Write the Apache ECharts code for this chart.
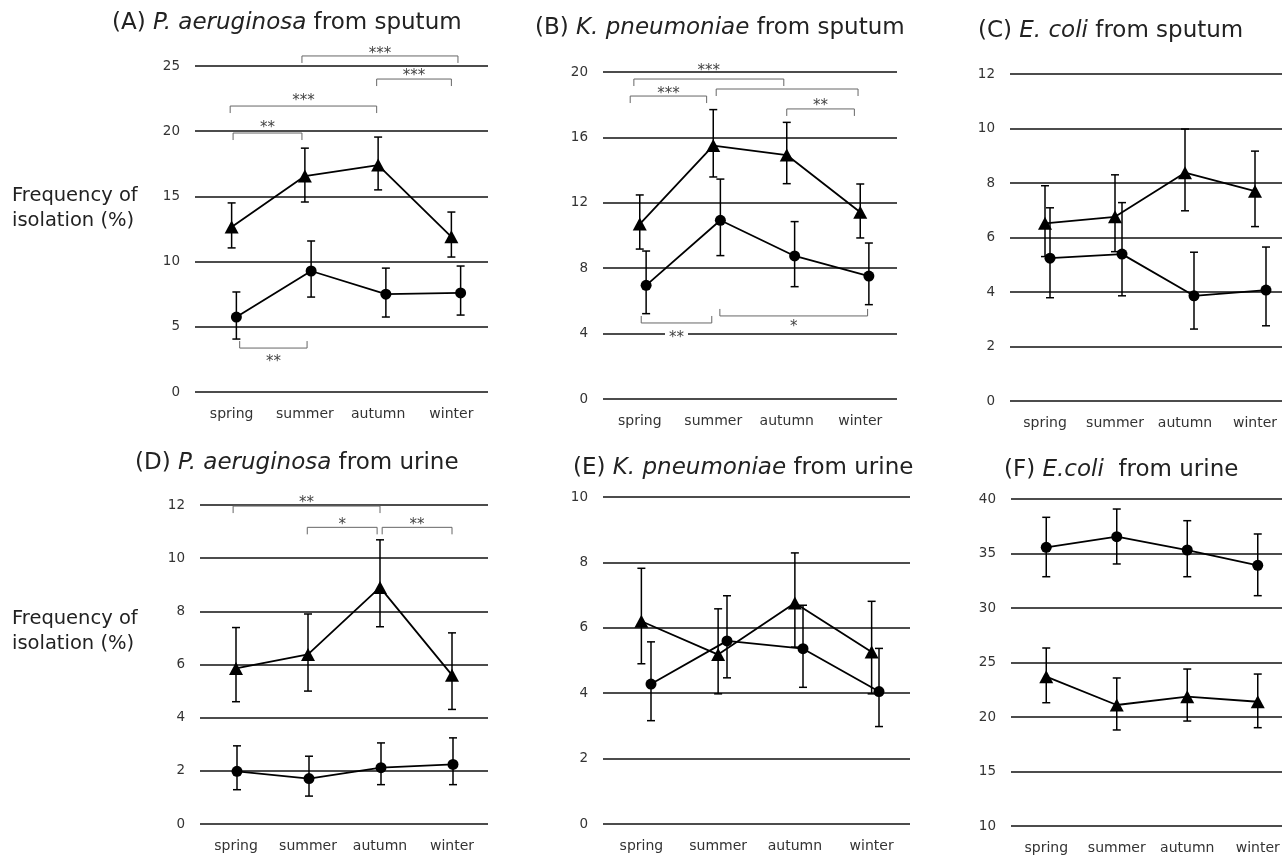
<!DOCTYPE html>
<html>
<head>
<meta charset="utf-8">
<script src="https://cdn.jsdelivr.net/npm/echarts@6/dist/echarts.min.js"></script>
<style>
html, body { margin: 0; padding: 0; background: #fff; }
#chart { width: 1282px; height: 857px; }
</style>
</head>
<body>
<div id="chart"></div>
<script>
// categories
const seasons = ['spring', 'summer', 'autumn', 'winter']

// (A) P. aeruginosa from sputum
const aTri = [12.65, 16.56, 17.4, 11.9]
const aTriLow = [11.05, 14.57, 15.5, 10.35]
const aTriHigh = [14.5, 18.7, 19.55, 13.8]
const aCirc = [5.75, 9.28, 7.5, 7.6]
const aCircLow = [4.06, 7.28, 5.75, 5.9]
const aCircHigh = [7.67, 11.58, 9.5, 9.66]
// [label, from, to, y, tick direction (1 down / -1 up), label y]
const aBrackets = [
  ['***', 0.96, 3.09, 25.77, 1, 26.23],
  ['***', 1.98, 3.0, 24.0, 1, 24.56],
  ['***', -0.02, 1.98, 21.93, 1, 22.62],
  ['**', 0.02, 0.96, 19.86, 1, 20.55],
  ['**', 0.11, 1.03, 3.37, -1, 2.61]
]

// (B) K. pneumoniae from sputum
const bTri = [10.7, 15.5, 14.92, 11.42]
const bTriLow = [9.17, 13.58, 13.17, 9.85]
const bTriHigh = [12.48, 17.7, 16.92, 13.15]
const bCirc = [6.95, 10.93, 8.75, 7.52]
const bCircLow = [5.22, 8.77, 6.87, 5.77]
const bCircHigh = [9.05, 13.45, 10.85, 9.54]
const bBrackets = [
  ['***', -0.08, 1.96, 19.57, 1, 20.31],
  ['***', -0.13, 0.91, 18.53, 1, 18.9],
  ['', 1.04, 2.97, 18.96, 1, 18.96],
  ['**', 2.0, 2.92, 17.74, 1, 18.16],
  ['**', 0.02, 0.98, 4.65, -1, 3.98],
  ['*', 1.09, 3.1, 5.08, -1, 4.65]
]

// (C) E. coli from sputum
const cTri = [6.52, 6.76, 8.38, 7.7]
const cTriLow = [5.3, 5.48, 6.98, 6.4]
const cTriHigh = [7.9, 8.3, 9.98, 9.17]
const cCirc = [5.24, 5.39, 3.86, 4.07]
const cCircLow = [3.79, 3.86, 2.64, 2.76]
const cCircHigh = [7.09, 7.28, 5.46, 5.65]
const cBrackets = []

// (D) P. aeruginosa from urine
const dTri = [5.85, 6.38, 8.9, 5.6]
const dTriLow = [4.6, 5.0, 7.42, 4.31]
const dTriHigh = [7.39, 7.9, 10.69, 7.19]
const dCirc = [1.98, 1.71, 2.12, 2.24]
const dCircLow = [1.29, 1.05, 1.48, 1.48]
const dCircHigh = [2.94, 2.55, 3.05, 3.24]
const dBrackets = [
  ['**', -0.04, 2.0, 11.96, 1, 12.23],
  ['*', 0.99, 1.96, 11.16, 1, 11.41],
  ['**', 2.03, 3.0, 11.16, 1, 11.41]
]

// (E) K. pneumoniae from urine
const eTri = [6.2, 5.18, 6.76, 5.26]
const eTriLow = [4.9, 3.98, 5.41, 3.98]
const eTriHigh = [7.82, 6.58, 8.29, 6.81]
const eCirc = [4.28, 5.6, 5.36, 4.05]
const eCircLow = [3.16, 4.47, 4.18, 2.98]
const eCircHigh = [5.57, 6.98, 6.69, 5.37]
const eBrackets = []

// (F) E. coli from urine
const fTri = [23.7, 21.1, 21.86, 21.4]
const fTriLow = [21.31, 18.81, 19.63, 19.02]
const fTriHigh = [26.33, 23.58, 24.4, 23.94]
const fCirc = [35.57, 36.54, 35.32, 33.92]
const fCircLow = [32.87, 34.04, 32.87, 31.13]
const fCircHigh = [38.32, 39.08, 38.01, 36.79]
const fBrackets = []

const titles = [
  ['(A) ', 'P. aeruginosa', ' from sputum'],
  ['(B) ', 'K. pneumoniae', ' from sputum'],
  ['(C) ', 'E. coli', ' from sputum'],
  ['(D) ', 'P. aeruginosa', ' from urine'],
  ['(E) ', 'K. pneumoniae', ' from urine'],
  ['(F) ', 'E.coli', '  from urine']
]
const yRanges = [[0, 25, 5], [0, 20, 4], [0, 12, 2], [0, 12, 2], [0, 10, 2], [10, 40, 5]]

const panels = [
  { tri: aTri, triLow: aTriLow, triHigh: aTriHigh, circ: aCirc, circLow: aCircLow, circHigh: aCircHigh, brackets: aBrackets },
  { tri: bTri, triLow: bTriLow, triHigh: bTriHigh, circ: bCirc, circLow: bCircLow, circHigh: bCircHigh, brackets: bBrackets },
  { tri: cTri, triLow: cTriLow, triHigh: cTriHigh, circ: cCirc, circLow: cCircLow, circHigh: cCircHigh, brackets: cBrackets },
  { tri: dTri, triLow: dTriLow, triHigh: dTriHigh, circ: dCirc, circLow: dCircLow, circHigh: dCircHigh, brackets: dBrackets },
  { tri: eTri, triLow: eTriLow, triHigh: eTriHigh, circ: eCirc, circLow: eCircLow, circHigh: eCircHigh, brackets: eBrackets },
  { tri: fTri, triLow: fTriLow, triHigh: fTriHigh, circ: fCirc, circLow: fCircLow, circHigh: fCircHigh, brackets: fBrackets }
]

// layout: main grid and the slightly wider grid the circle series sits on
const layout = [
  { left: 195, width: 293, top: 66, height: 326, cLeft: 199, cWidth: 299, tLeft: 112, tTop: 12 },
  { left: 603, width: 294, top: 72, height: 327, cLeft: 609, cWidth: 297, tLeft: 535, tTop: 17 },
  { left: 1010, width: 280, top: 74, height: 327, cLeft: 1014, cWidth: 288, tLeft: 978, tTop: 20 },
  { left: 200, width: 288, top: 505, height: 319, cLeft: 201, cWidth: 288, tLeft: 135, tTop: 452 },
  { left: 603, width: 307, top: 497, height: 327, cLeft: 613, cWidth: 304, tLeft: 573, tTop: 457 },
  { left: 1011, width: 282, top: 499, height: 327, cLeft: 1011, cWidth: 282, tLeft: 1004, tTop: 459 }
]

const FONT = '"DejaVu Sans", sans-serif'

function errorBarItem(params, api) {
  const x = api.value(0)
  const lo = api.coord([x, api.value(1)])
  const hi = api.coord([x, api.value(2)])
  const w = 4
  const st = { stroke: '#000', lineWidth: 1.5 }
  return {
    type: 'group',
    children: [
      { type: 'line', shape: { x1: hi[0], y1: hi[1], x2: lo[0], y2: lo[1] }, style: st },
      { type: 'line', shape: { x1: hi[0] - w, y1: hi[1], x2: hi[0] + w, y2: hi[1] }, style: st },
      { type: 'line', shape: { x1: lo[0] - w, y1: lo[1], x2: lo[0] + w, y2: lo[1] }, style: st }
    ]
  }
}

function bracketRenderer(list, withBg) {
  return function (params, api) {
    const b = list[params.dataIndex]
    const p1 = api.coord([b[1], b[3]])
    const p2 = api.coord([b[2], b[3]])
    const t = 7 * b[4]
    const ly = api.coord([b[1], b[5]])[1] + 4
    const children = [{
      type: 'polyline',
      shape: { points: [[p1[0], p1[1] + t], [p1[0], p1[1]], [p2[0], p2[1]], [p2[0], p2[1] + t]] },
      style: { stroke: '#666', lineWidth: 1, fill: null }
    }]
    if (b[0]) {
      const bg = withBg && b[4] < 0 && b[0] === '**'
      children.push({
        type: 'text',
        z2: 10,
        style: {
          text: b[0], x: (p1[0] + p2[0]) / 2, y: ly,
          textAlign: 'center', textVerticalAlign: 'middle',
          fill: '#444', font: '15px ' + FONT,
          backgroundColor: bg ? '#fff' : null, padding: bg ? [0, 4] : 0
        }
      })
    }
    return { type: 'group', children }
  }
}

const grid = []
const xAxis = []
const yAxis = []
const series = []
const title = []

panels.forEach((p, i) => {
  const L = layout[i]
  const r = yRanges[i]
  const xMain = 3 * i, xCirc = 3 * i + 1, xBr = 3 * i + 2
  const yMain = 2 * i, yCirc = 2 * i + 1
  grid.push({ left: L.left, width: L.width, top: L.top, height: L.height, containLabel: false, outerBoundsMode: 'none' })
  grid.push({ left: L.cLeft, width: L.cWidth, top: L.top, height: L.height, containLabel: false, outerBoundsMode: 'none' })

  xAxis.push({
    type: 'category', gridIndex: 2 * i, data: seasons,
    axisLine: { show: false }, axisTick: { show: false },
    axisLabel: { color: '#333', fontSize: 14, fontFamily: FONT, margin: 15, interval: 0 }
  })
  xAxis.push({ type: 'category', gridIndex: 2 * i + 1, data: seasons, show: false })
  xAxis.push({ type: 'value', gridIndex: 2 * i, min: -0.5, max: 3.5, show: false, splitLine: { show: false } })

  yAxis.push({
    type: 'value', gridIndex: 2 * i, min: r[0], max: r[1], interval: r[2],
    axisLine: { show: false }, axisTick: { show: false },
    axisLabel: { color: '#333', fontSize: 13.5, fontFamily: FONT, margin: 15 },
    splitLine: { lineStyle: { color: '#111', width: 1.5 } }
  })
  yAxis.push({ type: 'value', gridIndex: 2 * i + 1, min: r[0], max: r[1], show: false, splitLine: { show: false } })

  series.push({
    type: 'custom', xAxisIndex: xMain, yAxisIndex: yMain,
    data: seasons.map((s, k) => [k, p.triLow[k], p.triHigh[k]]),
    encode: { x: 0, y: [1, 2] }, renderItem: errorBarItem, z: 3
  })
  series.push({
    type: 'custom', xAxisIndex: xCirc, yAxisIndex: yCirc,
    data: seasons.map((s, k) => [k, p.circLow[k], p.circHigh[k]]),
    encode: { x: 0, y: [1, 2] }, renderItem: errorBarItem, z: 3
  })
  series.push({
    type: 'line', xAxisIndex: xMain, yAxisIndex: yMain, data: p.tri,
    symbol: 'triangle', symbolSize: [14, 13], showSymbol: true,
    lineStyle: { color: '#000', width: 1.8 }, itemStyle: { color: '#000' }, z: 4
  })
  series.push({
    type: 'line', xAxisIndex: xCirc, yAxisIndex: yCirc, data: p.circ,
    symbol: 'circle', symbolSize: 11, showSymbol: true,
    lineStyle: { color: '#000', width: 1.8 }, itemStyle: { color: '#000' }, z: 4
  })

  if (p.brackets.length) {
    series.push({
      type: 'custom', xAxisIndex: xBr, yAxisIndex: yMain,
      data: p.brackets.map(b => [b[1], b[2], b[3]]),
      encode: { x: [0, 1], y: 2 }, clip: false,
      renderItem: bracketRenderer(p.brackets, i === 1), z: 5
    })
  }

  const t = titles[i]
  title.push({
    text: '{n|' + t[0] + '}{i|' + t[1] + '}{n|' + t[2] + '}',
    left: L.tLeft, top: L.tTop, padding: 0,
    textStyle: {
      fontWeight: 'normal',
      rich: {
        n: { fontSize: 23, fontFamily: FONT, color: '#222', fontWeight: 'normal' },
        i: { fontSize: 23, fontFamily: FONT, color: '#222', fontWeight: 'normal', fontStyle: 'italic' }
      }
    }
  })
})

title.push({
  text: 'Frequency of\nisolation (%)', left: 12, top: 183, padding: 0,
  textStyle: { fontSize: 19.5, fontWeight: 'normal', fontFamily: FONT, color: '#222', lineHeight: 25 }
})
title.push({
  text: 'Frequency of\nisolation (%)', left: 12, top: 606, padding: 0,
  textStyle: { fontSize: 19.5, fontWeight: 'normal', fontFamily: FONT, color: '#222', lineHeight: 25 }
})

const chart = echarts.init(document.getElementById('chart'))
chart.setOption({
  animation: false,
  backgroundColor: '#fff',
  title, grid, xAxis, yAxis, series
})
</script>
</body>
</html>
